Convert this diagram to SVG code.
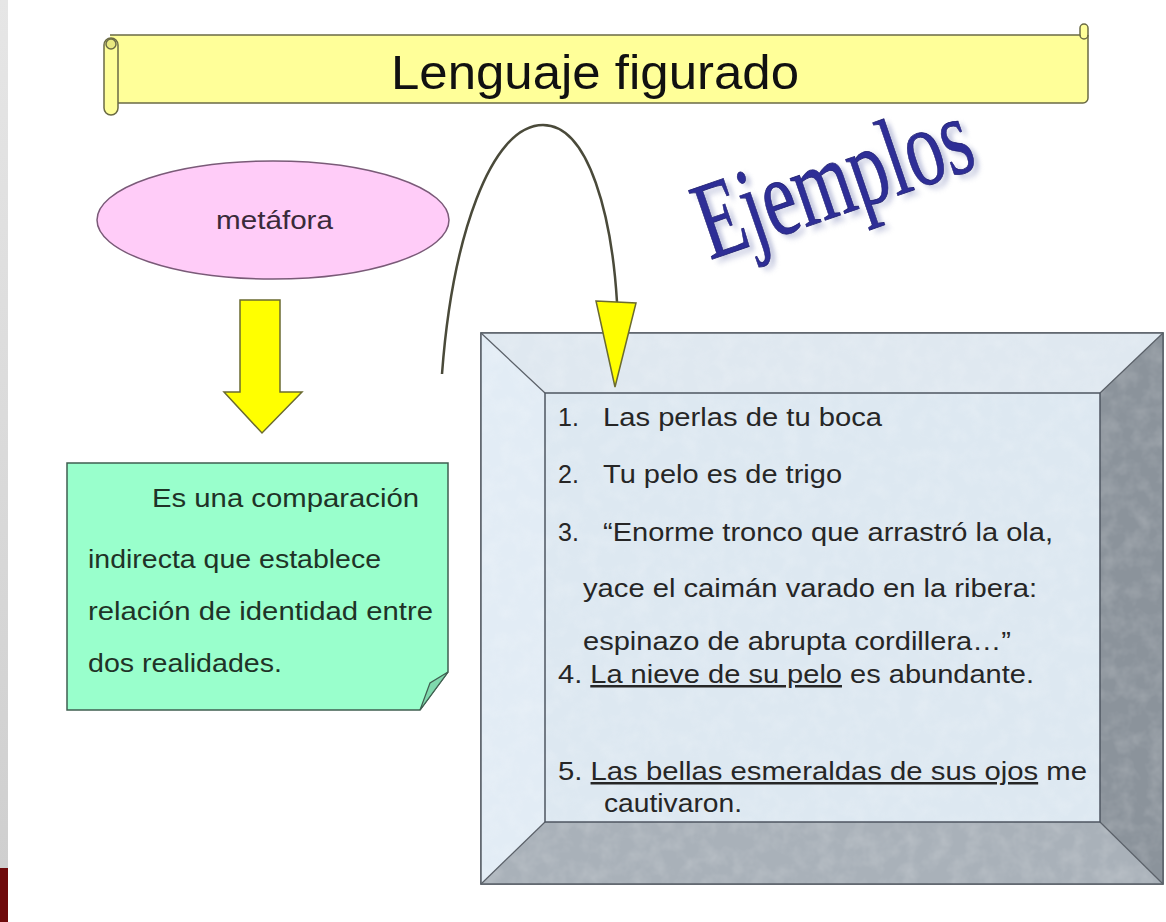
<svg xmlns="http://www.w3.org/2000/svg" width="1166" height="922" viewBox="0 0 1166 922">
<defs>
<linearGradient id="strip" x1="0" y1="0" x2="0" y2="1">
<stop offset="0" stop-color="#e6e6e6"/><stop offset="1" stop-color="#cfcfcf"/>
</linearGradient>
<filter id="shadow" x="-10%" y="-10%" width="130%" height="130%">
<feGaussianBlur stdDeviation="2"/>
</filter>
<filter id="noise" x="0" y="0" width="100%" height="100%">
<feTurbulence type="fractalNoise" baseFrequency="0.06" numOctaves="3" seed="4"/>
<feColorMatrix type="matrix" values="0 0 0 0 1  0 0 0 0 1  0 0 0 0 1  0 0 0 0.9 -0.35"/>
<feComposite in2="SourceGraphic" operator="in"/>
</filter>
<style>
.sans{font-family:"Liberation Sans",Arial,sans-serif}
.lst{font-family:"Liberation Sans",Arial,sans-serif;font-size:25px;fill:#262626}
.grn{font-family:"Liberation Sans",Arial,sans-serif;font-size:25px;fill:#1f3327}
.ol{stroke:#6b6b45;stroke-width:1.5}
</style>
</defs>
<rect width="1166" height="922" fill="#ffffff"/>
<rect x="0" y="0" width="8" height="868" fill="url(#strip)"/>
<rect x="0" y="868" width="8" height="54" fill="#6e0a0b"/>

<g id="title">
<path d="M110,35 H1080 V28 a4,4 0 0 1 8,0 V98 a5,5 0 0 1 -5,5 H118 V103" fill="#ffff99" class="ol"/>
<path d="M1080,35 a4,4 0 0 0 8,0" fill="none" class="ol"/>
<rect x="104" y="38" width="14" height="77" rx="7" fill="#ffff99" class="ol"/>
<ellipse cx="111" cy="44" rx="5" ry="5" fill="#e8e880" class="ol"/>
<text x="595" y="89" class="sans" font-size="49" text-anchor="middle" fill="#111" textLength="408" lengthAdjust="spacingAndGlyphs">Lenguaje figurado</text>
</g>

<g id="metafora">
<ellipse cx="273" cy="220" rx="176" ry="59" fill="#ffccf8" stroke="#7a5a78" stroke-width="1.5"/>
<text x="216" y="229" class="sans" font-size="25" fill="#3a2a3a" textLength="117" lengthAdjust="spacingAndGlyphs">metáfora</text>
</g>

<g id="ejemplos">
<g transform="translate(710,260) rotate(-19) scale(1,1.5)">
<text x="4" y="3" font-family="'Liberation Serif','Times New Roman',serif" font-size="74" fill="#9aa0c8" opacity="0.6" filter="url(#shadow)" textLength="285" lengthAdjust="spacingAndGlyphs">Ejemplos</text>
<text x="0" y="0" font-family="'Liberation Serif','Times New Roman',serif" font-size="74" fill="#2e2e96" stroke="#1e1e70" stroke-width="0.5" textLength="285" lengthAdjust="spacingAndGlyphs">Ejemplos</text>
</g>
</g>

<g id="connectors">
<path d="M240,300 H280 V392 H302 L262,433 L224,392 H240 Z" fill="#ffff00" stroke="#6b6b30" stroke-width="1.5"/>
<path d="M442,374 C452,240 490,125 543,125 C590,125 612,220 617,302" fill="none" stroke="#4a4a3a" stroke-width="2.5"/>
</g>

<g id="definicion">
<path d="M67,463 H448 V672 L420,710 H67 Z" fill="#99ffcc" stroke="#3f5f50" stroke-width="1.5"/>
<path d="M448,672 L430,683 L420,710 Z" fill="#7fd9ad" stroke="#3f5f50" stroke-width="1.2"/>
<text class="grn" x="152" y="507" textLength="267" lengthAdjust="spacingAndGlyphs">Es una comparación</text>
<text class="grn" x="88" y="568" textLength="293" lengthAdjust="spacingAndGlyphs">indirecta que establece</text>
<text class="grn" x="88" y="620" textLength="345" lengthAdjust="spacingAndGlyphs">relación de identidad entre</text>
<text class="grn" x="88" y="672" textLength="194" lengthAdjust="spacingAndGlyphs">dos realidades.</text>
</g>

<g id="ejemplos-box">
<rect x="481" y="333" width="682" height="551" fill="#dde8f1" stroke="#5a6068" stroke-width="1.5"/>
<polygon points="481,333 1163,333 1100,393 545,393" fill="#dfe8f0"/>
<polygon points="481,333 545,393 545,822 481,884" fill="#e2ecf5"/>
<polygon points="1163,333 1163,884 1100,822 1100,393" fill="#8b939b"/>
<polygon points="481,884 545,822 1100,822 1163,884" fill="#a9b1b9"/>
<rect x="481" y="333" width="682" height="551" fill="#ffffff" filter="url(#noise)" opacity="0.35"/>
<line x1="481" y1="333" x2="545" y2="393" stroke="#5a6068" stroke-width="1.2"/>
<line x1="1163" y1="333" x2="1100" y2="393" stroke="#5a6068" stroke-width="1.2"/>
<line x1="481" y1="884" x2="545" y2="822" stroke="#5a6068" stroke-width="1.2"/>
<line x1="1163" y1="884" x2="1100" y2="822" stroke="#5a6068" stroke-width="1.2"/>
<rect x="481" y="333" width="682" height="551" fill="none" stroke="#5a6068" stroke-width="1.5"/>
<rect x="545" y="393" width="555" height="429" fill="none" stroke="#4e5560" stroke-width="1.5"/>
<polygon points="596,301 636,303 615,387" fill="#ffff00" stroke="#6b6b30" stroke-width="1.5"/>
<text class="lst" x="558" y="426">1.</text><text class="lst" x="603" y="426" textLength="279" lengthAdjust="spacingAndGlyphs">Las perlas de tu boca</text>
<text class="lst" x="558" y="483">2.</text><text class="lst" x="603" y="483" textLength="239" lengthAdjust="spacingAndGlyphs">Tu pelo es de trigo</text>
<text class="lst" x="558" y="541">3.</text><text class="lst" x="603" y="541" textLength="450" lengthAdjust="spacingAndGlyphs">“Enorme tronco que arrastró la ola,</text>
<text class="lst" x="583" y="597" textLength="454" lengthAdjust="spacingAndGlyphs">yace el caimán varado en la ribera:</text>
<text class="lst" x="583" y="650" textLength="428" lengthAdjust="spacingAndGlyphs">espinazo de abrupta cordillera…”</text>
<text class="lst" x="558" y="683" textLength="476" lengthAdjust="spacingAndGlyphs">4. <tspan text-decoration="underline">La nieve de su pelo</tspan> es abundante.</text>
<text class="lst" x="558" y="780" textLength="529" lengthAdjust="spacingAndGlyphs">5. <tspan text-decoration="underline">Las bellas esmeraldas de sus ojos</tspan> me</text>
<text class="lst" x="604" y="812" textLength="138" lengthAdjust="spacingAndGlyphs">cautivaron.</text>
</g>
</svg>
